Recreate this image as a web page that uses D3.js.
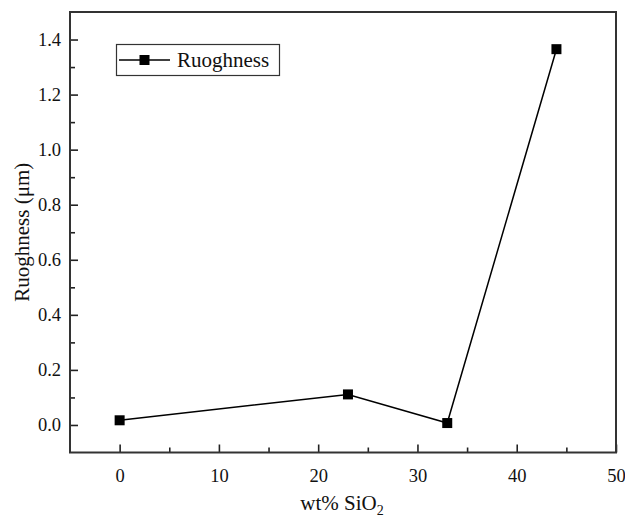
<!DOCTYPE html>
<html><head><meta charset="utf-8">
<script src="https://cdn.jsdelivr.net/npm/d3@7"></script>
<style>body{margin:0;background:#fff}svg{display:block}</style>
</head><body>
<script>
const xValues = [0, 23, 33, 44];
const yValues = [0.017, 0.111, 0.007, 1.365];
const xTicks = [0, 10, 20, 30, 40, 50];
const yTicks = [0.0, 0.2, 0.4, 0.6, 0.8, 1.0, 1.2, 1.4];
const seriesName = "Ruoghness";

const FONT = "Liberation Serif";
const W = 625, H = 519;
const L = 70, R = 616, T = 12, B = 452.5;
const svg = d3.select("body").append("svg").attr("width", W).attr("height", H)
  .attr("font-family", FONT);
const x = d3.scaleLinear().domain([-5, 50]).range([L, R]);
const y = d3.scaleLinear().domain([-0.1, 1.5]).range([B, T]);

const xMinor = d3.range(-5, 50.01, 5).filter(v => !xTicks.includes(v) && v > -5);
const yMinor = d3.range(-0.1, 1.5, 0.2).map(v => +v.toFixed(2)).filter(v => v > -0.1);

const gx = svg.append("g").attr("transform", `translate(0,${B})`);
gx.call(d3.axisBottom(x).tickValues(xTicks).tickSize(-8).tickPadding(16).tickFormat(d3.format("d")));
gx.append("g").call(d3.axisBottom(x).tickValues(xMinor).tickSize(-5).tickFormat(""));
const gy = svg.append("g").attr("transform", `translate(${L},0)`);
gy.call(d3.axisLeft(y).tickValues(yTicks).tickSize(-8).tickPadding(9).tickFormat(d3.format(".1f")));
gy.append("g").call(d3.axisLeft(y).tickValues(yMinor).tickSize(-5).tickFormat(""));
svg.selectAll(".domain").remove();
svg.selectAll("g").attr("font-family", FONT);
svg.selectAll(".tick line").attr("stroke", "#222").attr("stroke-width", 1.6);
svg.selectAll(".tick text").attr("font-size", 18.5).attr("fill", "#111").attr("font-family", FONT);

svg.append("rect").attr("x", L).attr("y", T).attr("width", R - L).attr("height", B - T)
  .attr("fill", "none").attr("stroke", "#333").attr("stroke-width", 2);

const pts = xValues.map((v, i) => [v, yValues[i]]);
svg.append("path").datum(pts).attr("fill", "none").attr("stroke", "#000").attr("stroke-width", 1.5)
  .attr("d", d3.line().x(d => x(d[0])).y(d => y(d[1])));
svg.selectAll(".pt").data(pts).enter().append("rect").attr("class", "pt")
  .attr("x", d => x(d[0]) - 5).attr("y", d => y(d[1]) - 5).attr("width", 10).attr("height", 10).attr("fill", "#000");

const lg = svg.append("g");
lg.append("rect").attr("x", 116.5).attr("y", 44.5).attr("width", 163).attr("height", 31)
  .attr("fill", "#fff").attr("stroke", "#333").attr("stroke-width", 1.2);
lg.append("line").attr("x1", 119).attr("x2", 170).attr("y1", 60).attr("y2", 60).attr("stroke", "#000").attr("stroke-width", 1.5);
lg.append("rect").attr("x", 139.5).attr("y", 55).attr("width", 10).attr("height", 10).attr("fill", "#000");
lg.append("text").attr("x", 177).attr("y", 67).attr("font-size", 21).attr("fill", "#111").attr("font-family", FONT).text(seriesName);

const xt = svg.append("text").attr("x", 342).attr("y", 510).attr("text-anchor", "middle")
  .attr("font-size", 21).attr("fill", "#111").attr("font-family", FONT);
xt.append("tspan").text("wt% SiO");
xt.append("tspan").attr("font-size", 14).attr("dy", 5).text("2");
svg.append("text").attr("transform", `translate(29,${(T + B) / 2}) rotate(-90)`).attr("text-anchor", "middle")
  .attr("font-size", 21).attr("fill", "#111").attr("font-family", FONT).text("Ruoghness (μm)");
</script>
</body></html>
